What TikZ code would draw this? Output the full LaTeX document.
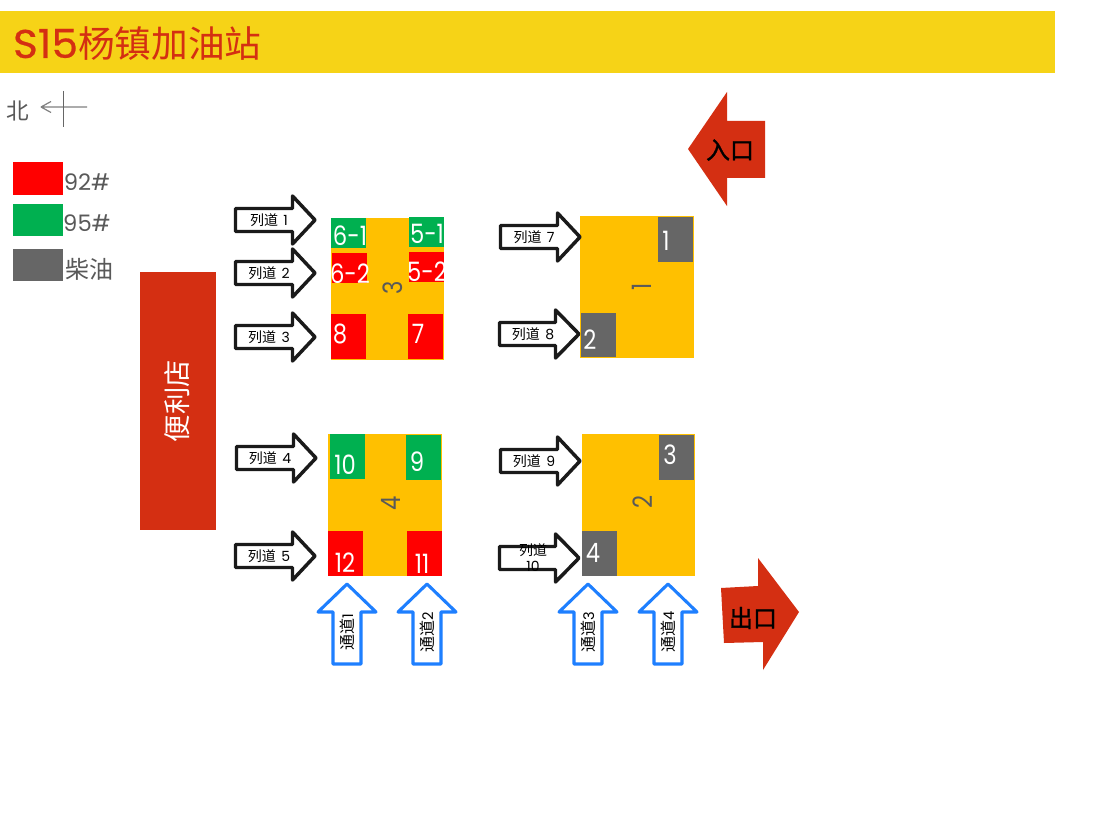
\documentclass[tikz,border=0pt]{standalone}
\usepackage{fontspec}
\setmainfont{Poppins}
\newfontfamily\cjk{Noto Sans CJK SC}
\newfontfamily\cjkb[FakeBold=1.2]{Noto Sans CJK SC}
\newfontfamily\narrowlat[FakeStretch=0.85]{Poppins}
\newfontfamily\titlelat[FakeBold=0.6,FakeStretch=1.06]{Poppins}
\definecolor{titlebg}{HTML}{F6D317}
\definecolor{brick}{HTML}{D42F12}
\definecolor{island}{HTML}{FFC000}
\definecolor{pgreen}{HTML}{00B050}
\definecolor{pgray}{HTML}{666666}
\definecolor{pred}{HTML}{FF0000}
\definecolor{lanearrow}{HTML}{1A1A1A}
\definecolor{aisle}{HTML}{1E7FFF}
\definecolor{softtext}{HTML}{595959}
\newcommand{\fs}[1]{\fontsize{#1}{#1}\selectfont}
\tikzset{
  x=0.75pt,y=-0.75pt,
  every node/.style={inner sep=0pt,outer sep=0pt,anchor=center},
  lanebox/.style={draw=lanearrow,line width=2.6pt,fill=white,line join=round},
  aislebox/.style={draw=aisle,line width=2.3pt,fill=white,line join=round},
  lanetext/.style={font=\fs{10.5},text=black},
  aisletext/.style={font=\fs{11},text=black,rotate=90},
  padtext/.style={font=\narrowlat\fs{20},text=white},
  islandtext/.style={font=\narrowlat\fs{20},text=softtext,rotate=90},
  legendtext/.style={font=\fs{17},text=softtext},
  gatetext/.style={font=\cjkb\fs{18},text=black},
}
% name, left, head base, tip, centre y, label x, label
\newcommand{\lane}[7]{%
  \draw[lanebox] (#2+1.5,#5-11.5) -- (#3+1.5,#5-11.5) -- (#3+1.5,#5-24) -- (#4-1,#5) -- (#3+1.5,#5+24) -- (#3+1.5,#5+11.5) -- (#2+1.5,#5+11.5) -- cycle;
  \node[lanetext] (#1) at (#6,#5) {{\cjk 列道}\hspace{4pt}#7};}
% name, tip x, label
\newcommand{\aislearrow}[3]{%
  \draw[aislebox] (#2,584) -- (#2+29,612) -- (#2+14,612) -- (#2+14,664) -- (#2-14,664) -- (#2-14,612) -- (#2-29,612) -- cycle;
  \node[aisletext] (#1) at (#2,632) {{\cjk\fs{12}通道}#3};}
\newcommand{\pad}[7]{%
  \fill[#6] (#2,#3) rectangle (#4,#5);
  \node[padtext] at (#7) {#1};}
\begin{document}
\begin{tikzpicture}
\useasboundingbox (0,0) rectangle (1106,820);
\fill[white] (0,0) rectangle (1106,820);
% title
\fill[titlebg] (0,11) rectangle (1055,73);
\node[anchor=west,text=brick] (title) at (13,44) {{\titlelat\fs{30}S15}{\cjk\fs{27.5}杨镇加油站}};
% compass
\node[text=softtext,font=\cjk\fs{17}] (north) at (18,111) {北};
\coordinate (ce) at (87,107);
\coordinate (cw) at (41,107);
\draw[gray,line width=0.9pt] (ce) -- (cw) (cw) -- (51,101.5) (cw) -- (51,112.5);
\draw[pgray,line width=0.75pt] (63,91) -- (63,127);
% legend
\fill[pred] (13,162) rectangle (63,195);
\fill[pgreen] (13,204) rectangle (63,236);
\fill[pgray] (13,249) rectangle (63,281);
\node[legendtext] (l92) at (87,182) {92\#};
\node[legendtext] (l95) at (87,223) {95\#};
\node[legendtext,font=\cjk\fs{18}] (ldiesel) at (89,269) {柴油};
% store
\fill[brick] (140,272) rectangle (216,530);
\node[rotate=90,text=white,font=\cjk\fs{20.5}] (store) at (177,401) {便利店};
% islands
\fill[island] (331,218) rectangle (444,360);
\fill[island] (580,216) rectangle (694,358);
\fill[island] (328,434) rectangle (442,576);
\fill[island] (582,434) rectangle (695,576);
\node[islandtext] (i3) at (393,288) {3};
\node[islandtext] (i1) at (642,287) {1};
\node[islandtext] (i4) at (391,503) {4};
\node[islandtext] (i2) at (643,502) {2};
% pumps
\pad{6-1}{331}{218}{366}{248}{pgreen}{350,236}
\pad{5-1}{409}{217}{444}{247}{pgreen}{427,234}
\pad{6-2}{332}{253}{367}{283}{pred}{350,274}
\pad{5-2}{409}{252}{444}{282}{pred}{427,272}
\pad{8}{331}{314}{366}{359}{pred}{340,334}
\pad{7}{408}{314}{443}{359}{pred}{418,334}
\pad{1}{658}{217}{693}{262}{pgray}{666,241}
\pad{2}{581}{313}{616}{357}{pgray}{590,340}
\pad{10}{330}{434}{365}{479}{pgreen}{345,465}
\pad{9}{406}{435}{441}{480}{pgreen}{417,462}
\pad{12}{328}{531}{363}{576}{pred}{345,563}
\pad{11}{407}{531}{442}{576}{pred}{422,564}
\pad{3}{659}{435}{694}{480}{pgray}{670,455}
\pad{4}{582}{531}{617}{576}{pgray}{593,553}
% lane arrows
\lane{lane1}{234}{291}{316}{220}{269}{1}
\lane{lane2}{234}{291}{316}{273}{269}{2}
\lane{lane3}{234}{291}{316}{337}{269}{3}
\lane{lane4}{235}{292}{317}{458}{270}{4}
\lane{lane5}{234}{291}{316}{556}{269}{5}
\lane{lane7}{499}{556}{581}{237}{534}{7}
\lane{lane8}{498}{554}{580}{334}{533}{8}
\lane{lane9}{499}{556}{581}{461}{534}{9}
\draw[lanebox] (499.5,546.5) -- (555.5,546.5) -- (555.5,534) -- (579,558) -- (555.5,582) -- (555.5,569.5) -- (499.5,569.5) -- cycle;
\node[lanetext,align=center,font=\fs{10.5}] (lane10) at (533,558) {{\cjk 列道}\\[1.5pt]10};
% aisle arrows
\aislearrow{aisle1}{347}{1}
\aislearrow{aisle2}{427}{2}
\aislearrow{aisle3}{588}{3}
\aislearrow{aisle4}{668}{4}
% entrance and exit
\fill[brick] (688,149) -- (727,92) -- (727,121) -- (765,121) -- (765,178) -- (727,178) -- (727,206) -- cycle;
\node[gatetext] (entry) at (730,150) {入口};
\fill[brick] (799,612) -- (758,558) -- (758,586) -- (721,588) -- (724,643) -- (763,642) -- (763,670) -- cycle;
\node[gatetext] (exit) at (753,618) {出口};
\end{tikzpicture}
\end{document}
